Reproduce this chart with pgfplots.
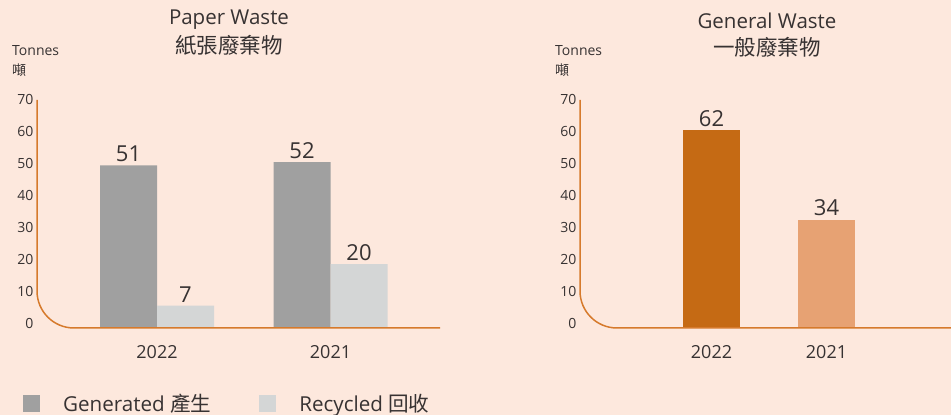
\documentclass[border=0pt]{standalone}
\usepackage{pgfplots}
\pgfplotsset{compat=1.18}
\usepackage{fontspec}
\setmainfont{Open Sans}
\newfontfamily\cjk{Noto Sans CJK TC}
\definecolor{bgpeach}{RGB}{253,232,221}
\definecolor{txt}{RGB}{55,50,50}
\definecolor{axorange}{RGB}{214,122,44}
\definecolor{gengray}{RGB}{160,160,160}
\definecolor{recgray}{RGB}{212,214,214}
\definecolor{darkor}{RGB}{197,106,20}
\definecolor{lightor}{RGB}{231,162,115}

\pgfplotsset{
  wastebars/.style={
    scale only axis, height=228pt, ymin=0, ymax=71.5,
    axis lines=left, axis line style={draw=none,-}, major tick length=0pt,
    xtick={0,1}, xticklabels={2022,2021},
    ytick={0,10,...,70},
    /pgf/number format/assume math mode=true,
    yticklabel style={font=\fontsize{14}{14}\selectfont, text=txt, yshift=5pt},
    xticklabel style={font=\fontsize{18}{18}\selectfont, text=txt, yshift=-14pt},
    ybar=0pt, bar width=57pt,
    nodes near coords,
    nodes near coords style={font=\fontsize{22}{22}\selectfont, text=txt},
    clip=false,
  }
}

\begin{document}
\begin{tikzpicture}[x=1pt,y=1pt]
\fill[bgpeach] (0,0) rectangle (951,415);
\clip (0,0) rectangle (951,415);

% paper waste
\begin{axis}[wastebars,
  at={(37pt,87pt)}, anchor=south west, width=403pt,
  xmin=-0.6916, xmax=1.631,
  legend columns=2,
  legend style={at={(-0.035,-0.33)}, anchor=west, draw=none, fill=none,
    font=\fontsize{20.6}{20.6}\selectfont, text=txt, inner sep=0pt,
    /tikz/every odd column/.append style={column sep=21pt},
    /tikz/every even column/.append style={column sep=46pt}},
]
\addplot[fill=gengray, draw=none,
  legend image code/.code={\fill[gengray] (0pt,-8.5pt) rectangle (17pt,8.5pt);}]
  coordinates {(0,51) (1,52)};
\addlegendentry{Generated {\cjk 產生}}
\addplot[fill=recgray, draw=none,
  legend image code/.code={\fill[recgray] (0pt,-8.5pt) rectangle (17pt,8.5pt);}]
  coordinates {(0,7) (1,20)};
\addlegendentry{Recycled {\cjk 回收}}
\draw[axorange, line width=1.5pt, rounded corners=37pt]
  (rel axis cs:0,1) -- (rel axis cs:0,0) -- (rel axis cs:1,0);
\end{axis}

% general waste
\begin{axis}[wastebars,
  at={(580pt,87pt)}, anchor=south west, width=371pt,
  xmin=-1.1435, xmax=2.0826,
]
\addplot[fill=darkor, draw=none, bar shift=0pt] coordinates {(0,62)};
\addplot[fill=lightor, draw=none, bar shift=0pt] coordinates {(1,34)};
\draw[axorange, line width=1.5pt, rounded corners=37pt]
  (rel axis cs:0,1) -- (rel axis cs:0,0) -- (rel axis cs:1,0);
\end{axis}

% titles and units
\begin{scope}[text=txt]
\node[font=\fontsize{20.5}{20.5}\selectfont] at (229,395) {Paper Waste};
\node[font=\fontsize{21.5}{21.5}\selectfont\cjk] at (229,370) {紙張廢棄物};
\node[font=\fontsize{20.5}{20.5}\selectfont] at (767,394) {General Waste};
\node[font=\fontsize{21.5}{21.5}\selectfont\cjk] at (767,368) {一般廢棄物};
\node[font=\fontsize{14}{14}\selectfont, anchor=west, inner sep=0pt] at (12,364) {Tonnes};
\node[font=\fontsize{14}{14}\selectfont\cjk, anchor=west, inner sep=0pt] at (12,345) {噸};
\node[font=\fontsize{14}{14}\selectfont, anchor=west, inner sep=0pt] at (555,364) {Tonnes};
\node[font=\fontsize{14}{14}\selectfont\cjk, anchor=west, inner sep=0pt] at (555,345) {噸};
\end{scope}
\end{tikzpicture}
\end{document}
